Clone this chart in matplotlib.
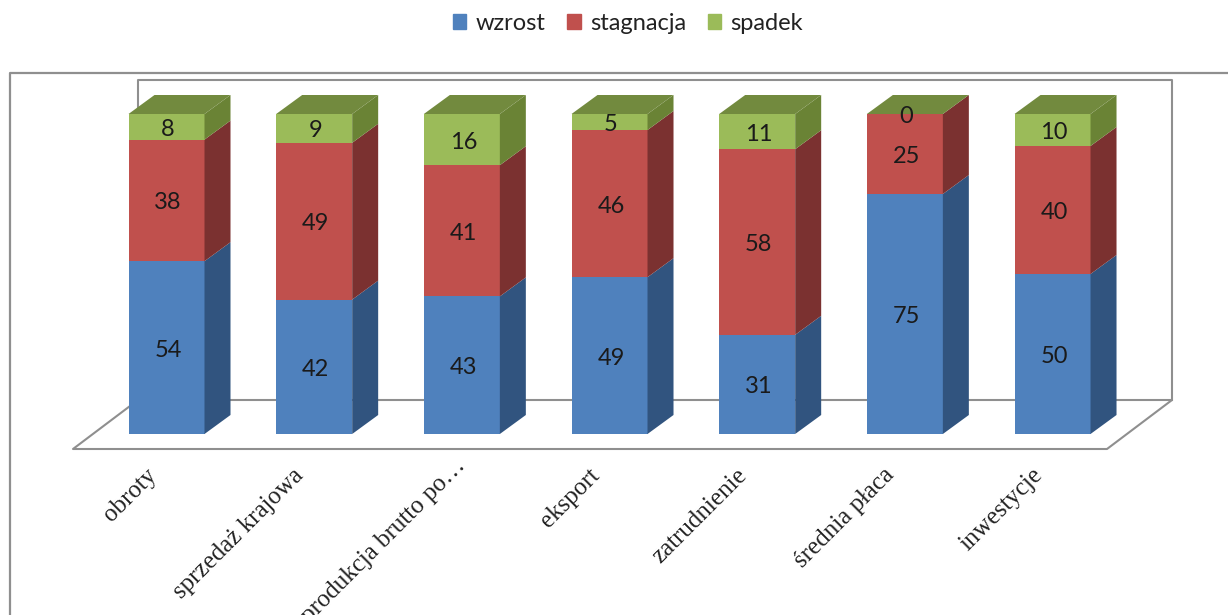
import matplotlib
matplotlib.use("Agg")
import matplotlib.pyplot as plt
from matplotlib.patches import Patch, Polygon

categories = ["obroty", "sprzedaż krajowa", "produkcja brutto po…", "eksport",
              "zatrudnienie", "średnia płaca", "inwestycje"]
wzrost = [54, 42, 43, 49, 31, 75, 50]
stagnacja = [38, 49, 41, 46, 58, 25, 40]
spadek = [8, 9, 16, 5, 11, 0, 10]

series_names = ["wzrost", "stagnacja", "spadek"]
front_colors = ["#4F81BD", "#C0504D", "#9BBB59"]
side_colors = ["#31547F", "#7B3130", "#6A8335"]
top_color = "#728A3E"
line_color = "#8F8F8F"

# pixel scale of the picture: one category = 147.67 px, one percent = 3.2 px
W, H = 1228, 615
x_unit, y_unit = 147.67, 3.2
x0_px, y0_px = 166.5, 434
bar_width = 76 / x_unit
depth_x, depth_y = 26 / x_unit, 19 / y_unit


def px(x, y):
    return (x - x0_px) / x_unit, (y0_px - y) / y_unit


fig = plt.figure(figsize=(W / 100, H / 100), dpi=100)
ax = fig.add_axes([0, 0, 1, 1])
ax.set_xlim(px(0, 0)[0], px(W, 0)[0])
ax.set_ylim(px(0, H)[1], px(0, 0)[1])
ax.axis("off")

# outer frame of the chart area
ax.plot(*zip(px(10, H), px(10, 73), px(W, 73)), color=line_color, lw=1.6, zorder=1)

# back wall and floor
ax.plot(*zip(px(138, 400), px(138, 80), px(1172, 80), px(1172, 400)), color=line_color, lw=1.5, zorder=1)
ax.plot(*zip(px(138, 400), px(73, 449), px(1107, 449), px(1172, 400), px(138, 400)),
        color=line_color, lw=1.5, zorder=1)

bottom = [0] * len(categories)
for values, name, fc, sc in zip([wzrost, stagnacja, spadek], series_names, front_colors, side_colors):
    ax.bar(range(len(categories)), values, bar_width, bottom=bottom, color=fc, zorder=3)
    for i, v in enumerate(values):
        right = i + bar_width / 2
        b = bottom[i]
        if v > 0:
            ax.add_patch(Polygon([(right, b), (right + depth_x, b + depth_y),
                                  (right + depth_x, b + v + depth_y), (right, b + v)],
                                 facecolor=sc, edgecolor="none", zorder=3))
        ax.text(i + 0.01, b + v / 2 - 0.8, str(v), ha="center", va="center",
                family="Lato", fontsize=17, color="#1a1a1a", zorder=5)
    bottom = [b + v for b, v in zip(bottom, values)]

# top faces
for i, total in enumerate(bottom):
    left = i - bar_width / 2
    right = i + bar_width / 2
    ax.add_patch(Polygon([(left, total), (right, total), (right + depth_x, total + depth_y),
                          (left + depth_x, total + depth_y)],
                         facecolor=top_color, edgecolor="none", zorder=4))

# category labels, rotated and cut by the bottom edge like the original
for i, label in enumerate(categories):
    # the truncated label sits a bit further up and right in the original
    dx = 0.095 if label.endswith("…") else 0
    dy = 3 if label.endswith("…") else 0
    ax.text(i - 0.145 + dx, px(0, 464)[1] + dy, label, rotation=45, rotation_mode="anchor",
            ha="right", va="top", family="Liberation Serif", fontsize=18, color="#222222")

handles = [Patch(color=c, label=n) for c, n in zip(front_colors, series_names)]
fig.legend(handles=handles, loc="center", bbox_to_anchor=(628 / W, 1 - 23 / H), ncol=3,
           frameon=False, prop={"family": "Lato", "size": 17}, handlelength=0.58,
           handleheight=0.58, handletextpad=0.4, columnspacing=0.9, labelcolor="#222222")

fig.savefig("out.png", dpi=100)
